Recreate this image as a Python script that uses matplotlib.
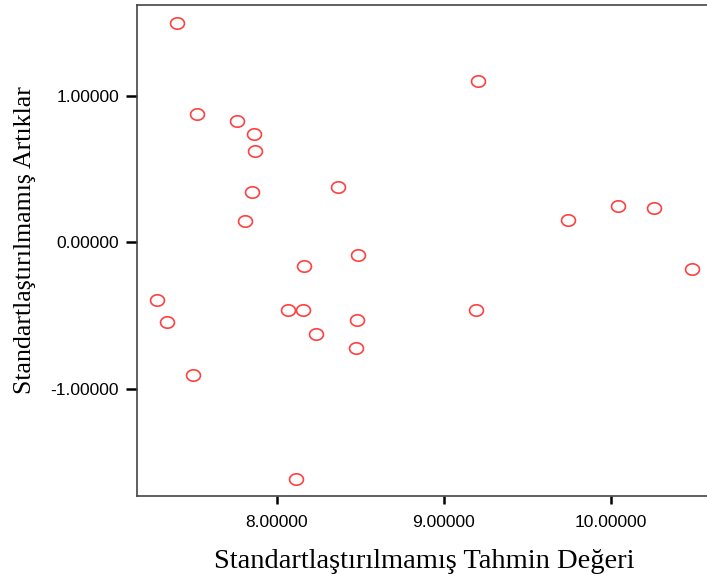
import matplotlib
matplotlib.use("Agg")
import matplotlib.pyplot as plt
import numpy as np
from matplotlib.path import Path

# Unstandardized predicted values (x) and unstandardized residuals (y)
predicted = [7.405, 7.525, 7.762, 7.862, 7.872, 7.850, 7.812, 7.286, 7.345, 7.501,
             8.066, 8.159, 8.162, 8.233, 8.485, 8.482, 8.473, 8.114, 8.365, 9.192,
             9.206, 9.745, 10.044, 10.259, 10.486]
residuals = [1.493, 0.877, 0.829, 0.736, 0.620, 0.341, 0.143, -0.391, -0.543, -0.905,
             -0.464, -0.464, -0.160, -0.625, -0.089, -0.532, -0.718, -1.613, 0.375, -0.464,
             1.097, 0.154, 0.247, 0.236, -0.182]

x_ticks = [8.0, 9.0, 10.0]
y_ticks = [-1.0, 0.0, 1.0]
x_label = "Standartlaştırılmamış Tahmin Değeri"
y_label = "Standartlaştırılmamış Artıklar"

fig = plt.figure(figsize=(7.07, 5.83), dpi=100)
ax = fig.add_axes([137/707, 1 - 495.7/583, (707 - 137)/707, (495.7 - 4.7)/583])

# slightly flattened circle marker
t = np.linspace(0, 2*np.pi, 60)
verts = np.column_stack([np.cos(t), 0.82*np.sin(t)])
ell = Path(verts, closed=True)

ax.plot(predicted, residuals, linestyle='none', marker=ell, markersize=10,
        markerfacecolor='none', markeredgecolor='#ff4040', markeredgewidth=1.2)

ax.set_xlim(7.164, 10.574)
ax.set_ylim(-1.727, 1.620)
ax.set_xticks(x_ticks)
ax.set_yticks(y_ticks)
ax.set_xticklabels([f"{v:.5f}" for v in x_ticks], fontfamily='Liberation Sans', fontsize=12.5)
ax.set_yticklabels([f"{v:.5f}" for v in y_ticks], fontfamily='Liberation Sans', fontsize=12.5)
ax.tick_params(axis='x', length=6, width=1.8, color='black', pad=8)
ax.tick_params(axis='y', length=8, width=1.8, color='black', pad=5)

for s in ['left', 'bottom', 'top']:
    ax.spines[s].set_color('#444444')
    ax.spines[s].set_linewidth(1.2)
ax.spines['right'].set_visible(False)

fig.text((212 + 637) / 2 / 707, 1 - 562/583, x_label, ha='center', va='center',
         fontfamily='Liberation Serif', fontsize=20.5)
fig.text(25/707, 1 - 240/583, y_label, ha='center', va='center', rotation=90,
         fontfamily='Liberation Serif', fontsize=18.6)

fig.savefig("out.png", dpi=100)
